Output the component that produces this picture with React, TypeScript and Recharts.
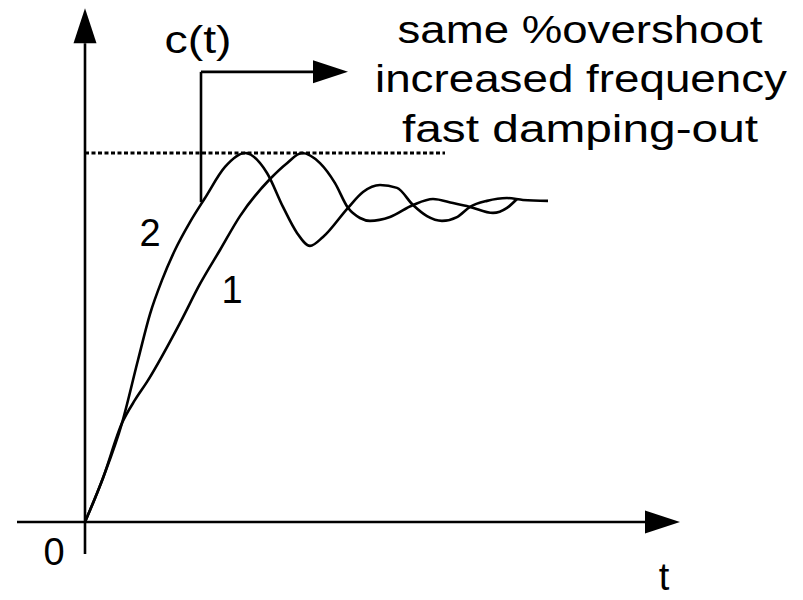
import { LineChart, Line, XAxis, YAxis, ReferenceLine, ReferenceDot } from 'recharts'

// time axis: 1 unit = 100px, response axis: 1 unit = steady-state value
const curve1 = [
  { t: 0, c: 0 },
  { t: 0.18, c: 0.139 },
  { t: 0.37, c: 0.312 },
  { t: 0.5, c: 0.385 },
  { t: 0.62, c: 0.442 },
  { t: 0.95, c: 0.628 },
  { t: 1.15, c: 0.751 },
  { t: 1.35, c: 0.858 },
  { t: 1.55, c: 0.965 },
  { t: 1.85, c: 1.082 },
  { t: 2.02, c: 1.132 },
  { t: 2.17, c: 1.164 },
  { t: 2.35, c: 1.132 },
  { t: 2.5, c: 1.069 },
  { t: 2.63, c: 0.991 },
  { t: 2.75, c: 0.959 },
  { t: 2.85, c: 0.95 },
  { t: 3.05, c: 0.962 },
  { t: 3.28, c: 1.0 },
  { t: 3.48, c: 1.019 },
  { t: 3.68, c: 1.006 },
  { t: 3.85, c: 0.994 },
  { t: 4.08, c: 0.975 },
  { t: 4.22, c: 0.991 },
  { t: 4.32, c: 1.019 },
]

const curve2 = [
  { t: 0, c: 0 },
  { t: 0.18, c: 0.139 },
  { t: 0.37, c: 0.312 },
  { t: 0.53, c: 0.511 },
  { t: 0.65, c: 0.656 },
  { t: 0.77, c: 0.763 },
  { t: 0.9, c: 0.858 },
  { t: 1.05, c: 0.946 },
  { t: 1.2, c: 1.022 },
  { t: 1.4, c: 1.12 },
  { t: 1.6, c: 1.164 },
  { t: 1.82, c: 1.101 },
  { t: 1.98, c: 0.994 },
  { t: 2.12, c: 0.912 },
  { t: 2.25, c: 0.871 },
  { t: 2.38, c: 0.899 },
  { t: 2.63, c: 0.991 },
  { t: 2.78, c: 1.041 },
  { t: 2.95, c: 1.063 },
  { t: 3.12, c: 1.054 },
  { t: 3.28, c: 1.0 },
  { t: 3.42, c: 0.965 },
  { t: 3.57, c: 0.95 },
  { t: 3.72, c: 0.962 },
  { t: 3.85, c: 0.994 },
  { t: 4.02, c: 1.013 },
  { t: 4.22, c: 1.022 },
  { t: 4.38, c: 1.016 },
  { t: 4.63, c: 1.013 },
]

const overshoot = 1.164
const overshootEnd = 3.6

const tRange = [-0.68, 5.95]
const cRange = [-0.101, 1.621]

const callout = { t: 1.16, from: 1.009, to: 1.42, end: 2.63 }

const notes = [
  { text: 'same %overshoot', t: 4.95, c: 1.511 },
  { text: 'increased frequency', t: 4.96, c: 1.356 },
  { text: 'fast damping-out', t: 4.95, c: 1.199 },
]

const labels = [
  { text: 'c(t)', t: 1.13, c: 1.479 },
  { text: '2', t: 0.65, c: 0.871 },
  { text: '1', t: 1.47, c: 0.691 },
  { text: '0', t: -0.31, c: -0.136 },
  { text: 't', t: 5.79, c: -0.214 },
]

const textWidths = {
  'same %overshoot': 365,
  'increased frequency': 412,
  'fast damping-out': 356,
  'c(t)': 67,
}

const FONT = '"Liberation Sans", Arial, sans-serif'

const arrow = (dir) => (props) => {
  const { x1, y1, x2, y2 } = props
  const len = 35
  const half = 11.5
  if (dir === 'up') {
    return (
      <g>
        <line x1={x1} y1={y1} x2={x2} y2={y2 + len} stroke="#000" strokeWidth={2.6} />
        <polygon
          points={`${x2},${y2} ${x2 - half},${y2 + len} ${x2 + half},${y2 + len}`}
          fill="#000"
        />
      </g>
    )
  }
  return (
    <g>
      <line x1={x1} y1={y1} x2={x2 - len} y2={y2} stroke="#000" strokeWidth={2.6} />
      <polygon
        points={`${x2},${y2} ${x2 - len},${y2 - half} ${x2 - len},${y2 + half}`}
        fill="#000"
      />
    </g>
  )
}

const textShape = (text) => (props) => {
  const w = textWidths[text]
  return (
    <text
      x={props.cx}
      y={props.cy}
      textAnchor="middle"
      fontFamily={FONT}
      fontSize={38}
      fill="#000"
      textLength={w}
      lengthAdjust={w ? 'spacingAndGlyphs' : undefined}
    >
      {text}
    </text>
  )
}

export default function App() {
  return (
    <div style={{ position: 'absolute', left: 0, top: 0, background: '#fff' }}>
      <LineChart width={803} height={600} margin={{ top: 0, right: 0, bottom: 0, left: 0 }}>
        <XAxis type="number" dataKey="t" domain={[-0.85, 7.18]} allowDataOverflow hide />
        <YAxis type="number" dataKey="c" domain={[-0.2461, 1.6467]} allowDataOverflow hide />

        <ReferenceLine
          segment={[{ x: tRange[0], y: 0 }, { x: tRange[1], y: 0 }]}
          shape={arrow('right')}
        />
        <ReferenceLine
          segment={[{ x: 0, y: cRange[0] }, { x: 0, y: cRange[1] }]}
          shape={arrow('up')}
        />
        <ReferenceLine
          segment={[{ x: 0, y: overshoot }, { x: overshootEnd, y: overshoot }]}
          stroke="#000"
          strokeWidth={3}
          strokeDasharray="4 2.5"
        />
        <ReferenceLine
          segment={[{ x: callout.t, y: callout.from }, { x: callout.t, y: callout.to }]}
          stroke="#000"
          strokeWidth={2.6}
        />
        <ReferenceLine
          segment={[{ x: callout.t, y: callout.to }, { x: callout.end, y: callout.to }]}
          shape={arrow('right')}
        />

        <Line
          data={curve1}
          dataKey="c"
          type="monotone"
          dot={false}
          activeDot={false}
          stroke="#000"
          strokeWidth={2.6}
          isAnimationActive={false}
        />
        <Line
          data={curve2}
          dataKey="c"
          type="monotone"
          dot={false}
          activeDot={false}
          stroke="#000"
          strokeWidth={2.6}
          isAnimationActive={false}
        />

        {[...notes, ...labels].map((l) => (
          <ReferenceDot
            key={l.text}
            x={l.t}
            y={l.c}
            r={0}
            ifOverflow="visible"
            shape={textShape(l.text)}
          />
        ))}
      </LineChart>
    </div>
  )
}
